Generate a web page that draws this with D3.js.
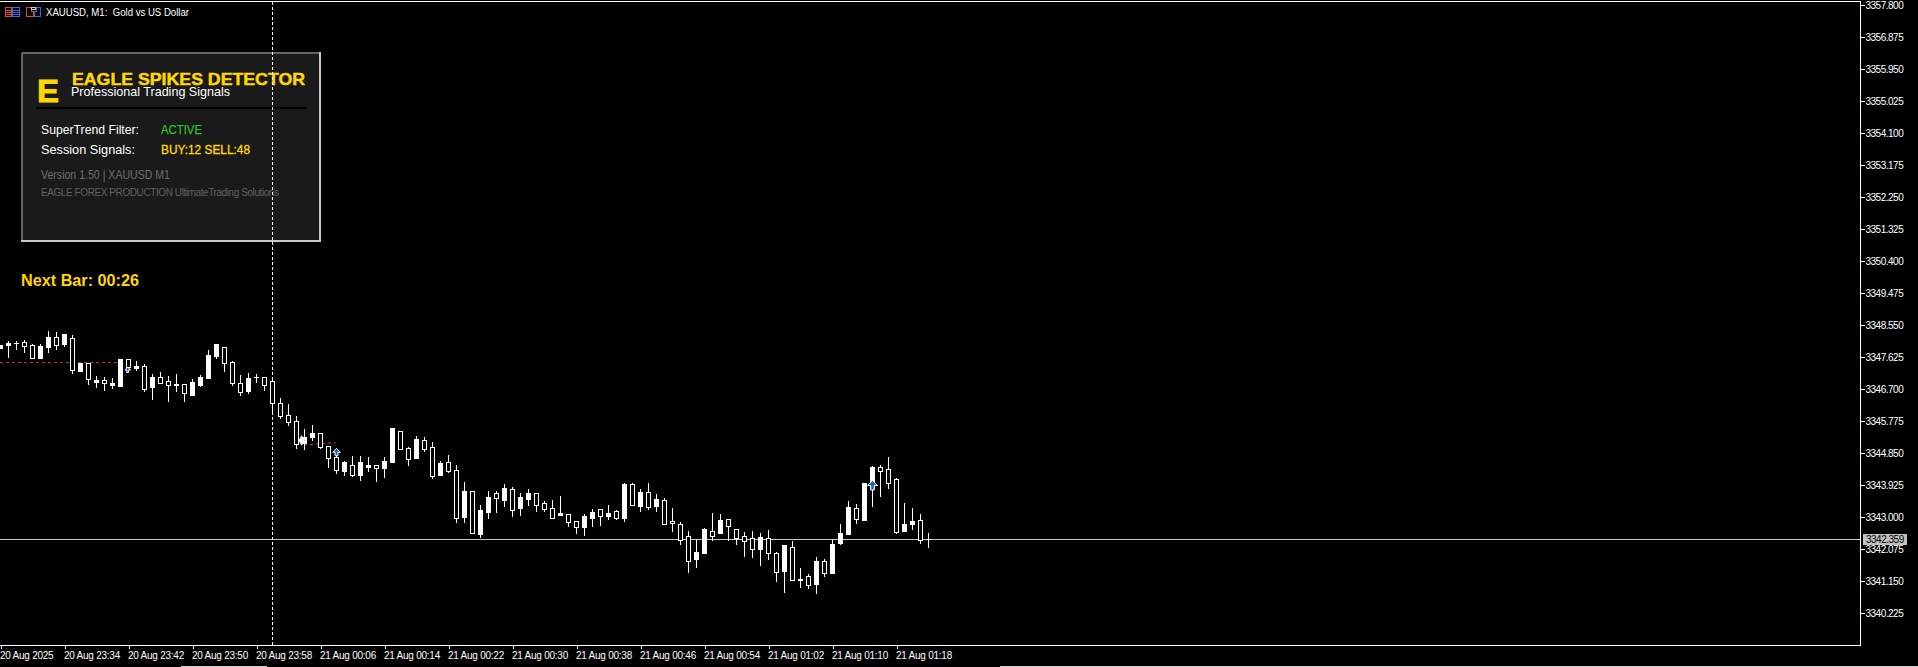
<!DOCTYPE html>
<html><head><meta charset="utf-8">
<style>html,body{margin:0;padding:0;background:#000;overflow:hidden}svg{display:block}text{font-family:"Liberation Sans",Arial,sans-serif}</style>
<script src="https://cdn.jsdelivr.net/npm/d3@7"></script></head><body><svg id="c" width="1918" height="667"></svg>
<script>
const opens=[3347.979,3348.037,3348.037,3347.95,3347.603,3347.95,3348.21,3347.979,3348.297,3347.257,3347.459,3346.996,3346.968,3346.881,3346.881,3347.575,3347.343,3347.372,3346.708,3347.054,3346.881,3346.823,3346.852,3346.592,3346.91,3347.054,3347.69,3348.008,3347.459,3346.881,3346.621,3347.025,3347.054,3346.823,3346.303,3345.927,3345.754,3345.118,3345.32,3345.436,3345.032,3344.714,3344.367,3344.598,3344.222,3344.598,3344.511,3344.425,3344.627,3345.581,3344.974,3344.685,3345.263,3344.974,3344.193,3344.569,3344.338,3342.98,3343.76,3342.546,3343.211,3343.587,3343.558,3343.847,3343.211,3343.587,3343.702,3343.355,3343.24,3342.98,3343.124,3342.864,3342.719,3343.038,3343.153,3343.038,3343.124,3342.98,3343.962,3343.355,3343.731,3343.298,3343.529,3342.806,3342.835,3342.344,3341.737,3341.997,3342.662,3342.46,3342.922,3342.748,3342.402,3342.315,3342.084,3342.431,3341.968,3341.419,3342.199,3341.188,3341.217,3341.043,3341.737,3341.39,3342.228,3342.546,3343.298,3342.951,3343.991,3344.454,3344.338,3343.991,3342.575,3342.806,3342.893,3342.344,3342.373];
const highs=[3347.979,3348.095,3348.095,3348.124,3348.008,3348.008,3348.384,3348.355,3348.297,3348.268,3347.459,3347.459,3347.083,3347.054,3347.025,3347.575,3347.575,3347.517,3347.43,3347.141,3347.199,3347.083,3347.141,3346.852,3346.996,3347.112,3347.835,3348.008,3347.921,3347.517,3347.112,3347.17,3347.141,3347.054,3346.968,3346.448,3346.274,3345.927,3345.552,3345.667,3345.436,3345.061,3344.945,3344.627,3344.772,3344.772,3344.743,3344.511,3344.743,3345.581,3345.494,3345.032,3345.349,3345.32,3345.176,3344.627,3344.801,3344.511,3344.02,3343.76,3343.355,3343.76,3343.76,3343.962,3343.876,3343.702,3343.818,3343.702,3343.471,3343.5,3343.616,3343.095,3342.893,3343.095,3343.24,3343.24,3343.355,3343.211,3343.991,3343.991,3343.818,3343.991,3343.673,3343.558,3343.269,3342.864,3342.604,3342.344,3342.691,3343.124,3343.095,3342.951,3342.662,3342.575,3342.604,3342.546,3342.633,3341.997,3342.199,3342.315,3341.535,3341.362,3341.853,3341.795,3342.344,3342.806,3343.471,3343.384,3343.991,3344.483,3344.511,3344.743,3344.136,3343.413,3343.269,3343.095,3342.546];
const lows=[3347.892,3347.632,3347.863,3347.777,3347.603,3347.603,3347.777,3347.863,3347.95,3347.17,3347.228,3346.852,3346.765,3346.679,3346.736,3346.794,3347.257,3347.257,3346.65,3346.419,3346.881,3346.361,3346.65,3346.361,3346.534,3346.794,3347.025,3347.603,3347.228,3346.823,3346.534,3346.592,3346.91,3346.679,3346.014,3345.87,3345.667,3345.003,3344.974,3345.234,3345.003,3344.454,3344.28,3344.222,3344.193,3344.078,3344.338,3344.049,3344.165,3344.598,3344.974,3344.511,3344.714,3344.916,3344.136,3344.222,3344.309,3342.864,3342.864,3342.546,3342.431,3342.98,3343.153,3343.326,3343.038,3343.067,3343.355,3343.182,3343.182,3342.98,3343.067,3342.748,3342.546,3342.488,3342.748,3342.777,3342.951,3342.951,3342.893,3343.355,3343.182,3343.24,3343.182,3342.806,3342.604,3342.228,3341.419,3341.564,3341.968,3342.344,3342.546,3342.344,3342.228,3341.882,3341.853,3341.622,3341.795,3341.159,3340.841,3341.188,3340.986,3340.957,3340.812,3341.304,3341.39,3342.228,3342.517,3342.835,3342.922,3343.326,3343.616,3343.847,3342.546,3342.604,3342.662,3342.257,3342.142];
const closes=[3347.892,3347.979,3348.037,3348.066,3347.979,3347.603,3347.921,3348.21,3348.008,3348.181,3347.228,3347.459,3346.91,3346.968,3346.823,3346.794,3347.575,3347.314,3347.372,3346.765,3347.054,3346.939,3346.823,3346.852,3346.534,3346.823,3347.025,3347.661,3347.921,3347.488,3346.881,3346.65,3347.054,3347.054,3346.939,3346.303,3345.956,3345.783,3345.147,3345.32,3345.436,3345.061,3344.743,3344.338,3344.511,3344.222,3344.454,3344.511,3344.425,3344.598,3345.494,3345.003,3344.714,3345.234,3345.032,3344.222,3344.598,3344.367,3343.009,3343.76,3342.517,3343.153,3343.702,3343.5,3343.818,3343.269,3343.529,3343.702,3343.413,3343.269,3343.067,3343.095,3342.893,3342.719,3342.98,3343.24,3343.038,3343.182,3342.98,3343.962,3343.326,3343.731,3343.326,3343.5,3342.893,3342.806,3342.46,3341.795,3341.968,3342.604,3342.546,3342.951,3342.662,3342.46,3342.402,3342.084,3342.402,3341.968,3341.448,3342.142,3341.188,3341.304,3341.072,3341.737,3341.39,3342.257,3342.517,3343.269,3342.922,3343.847,3344.454,3344.396,3344.107,3342.604,3342.806,3342.922,3342.359];
const priceTicks=[3357.8,3356.875,3355.95,3355.025,3354.1,3353.175,3352.25,3351.325,3350.4,3349.475,3348.55,3347.625,3346.7,3345.775,3344.85,3343.925,3343,3342.075,3341.15,3340.225];
const timeLabels=["20 Aug 2025","20 Aug 23:34","20 Aug 23:42","20 Aug 23:50","20 Aug 23:58","21 Aug 00:06","21 Aug 00:14","21 Aug 00:22","21 Aug 00:30","21 Aug 00:38","21 Aug 00:46","21 Aug 00:54","21 Aug 01:02","21 Aug 01:10","21 Aug 01:18"];
const timeTickBars=[0,8,16,24,32,40,48,56,64,72,80,88,96,104,112];
const bidPrice=3342.359, separatorBar=34;
const signalLines=[[0,14.7,3347.47,3347.47],[38,41.9,3345.09,3345.16]];
const buyArrows=[[42,3344.88,7],[109,3343.92,9],[15.9,3347.26,5]];
const sellMarks=[[37.7,3345.22]];

const svg=d3.select("#c");
const x=d3.scaleLinear().domain([0,8]).range([0,64]);
const y=d3.scaleLinear().domain([3340.225,3357.8]).range([613.3,5.3]);
const px=v=>Math.round(y(v));
const bars=d3.range(opens.length);
const W=1860,B=645,gold="#FFD700";

// bid line, separator and signal lines lie under the candles
const under=svg.append("g").attr("shape-rendering","crispEdges");
under.append("line").attr("x1",0).attr("x2",W).attr("y1",px(bidPrice)+.5).attr("y2",px(bidPrice)+.5).attr("stroke","#c8c8c8");
const sep=(a,b)=>{const s=svg.append("line").attr("shape-rendering","crispEdges").attr("x1",x(separatorBar)+.5).attr("x2",x(separatorBar)+.5).attr("y1",a).attr("y2",b).attr("stroke","#fff").attr("stroke-dasharray","3,2");return s;};
sep(2,B);
svg.append("g").selectAll("line").data(signalLines).join("line")
 .attr("x1",d=>x(d[0])).attr("x2",d=>x(d[1])).attr("y1",d=>y(d[2])).attr("y2",d=>y(d[3]))
 .attr("stroke","#e0432a").attr("stroke-dasharray","3,3").attr("stroke-width",1);
const cg=svg.append("g").attr("shape-rendering","crispEdges");
cg.selectAll(".w").data(bars).join("rect").attr("x",i=>x(i)).attr("width",1)
 .attr("y",i=>px(highs[i])).attr("height",i=>px(lows[i])-px(highs[i])+1).attr("fill","#fff");
cg.selectAll(".b").data(bars).join("rect")
 .attr("x",i=>x(i)-2+(closes[i]>opens[i]?0.5:0)).attr("width",i=>closes[i]>opens[i]?4:5)
 .attr("y",i=>px(Math.max(opens[i],closes[i]))+(closes[i]>opens[i]?0.5:0))
 .attr("height",i=>{const h=px(Math.min(opens[i],closes[i]))-px(Math.max(opens[i],closes[i]));return closes[i]>opens[i]?h:h+1;})
 .attr("fill",i=>closes[i]>opens[i]?"#000":"#fff")
 .attr("stroke",i=>closes[i]>opens[i]?"#fff":"none").attr("stroke-width",1);
// signal glyphs
const arrow=s=>`M0,${-s*0.55}L${s*0.55},0L${s*0.2},0L${s*0.2},${s*0.5}L${-s*0.2},${s*0.5}L${-s*0.2},0L${-s*0.55},0Z`;
svg.append("g").selectAll("path").data(buyArrows).join("path")
 .attr("transform",d=>`translate(${x(d[0])+0.5},${y(d[1])})`).attr("d",d=>arrow(d[2]))
 .attr("fill","#1469b4").attr("stroke","#fff").attr("stroke-width",1);
svg.append("g").selectAll("path").data(sellMarks).join("path")
 .attr("transform",d=>`translate(${x(d[0])},${y(d[1])})`).attr("d",d3.symbol(d3.symbolDiamond,34))
 .attr("fill","#fff").attr("stroke","#e0432a").attr("stroke-width",0.6).attr("stroke-dasharray","2,3");

// panel
const P=svg.append("g");
P.append("rect").attr("x",21).attr("y",52).attr("width",300).attr("height",190).attr("fill","#1a1a1a").attr("shape-rendering","crispEdges");
const edge=(a,b,c,d,col)=>P.append("line").attr("x1",a).attr("y1",b).attr("x2",c).attr("y2",d).attr("stroke",col).attr("stroke-width",2).attr("shape-rendering","crispEdges");
edge(22,53,320,53,"#646464");edge(22,53,22,241,"#646464");
edge(320,52,320,242,"#c8c8c8");edge(21,241,321,241,"#c8c8c8");
edge(36,108,306,108,"#000");
const t=(s,px_,py,size,col,o={})=>{const n=P.append("text").attr("x",px_).attr("y",py).attr("font-size",size).attr("fill",col).text(s);
 if(o.w)n.attr("textLength",o.w).attr("lengthAdjust",o.sp?"spacing":"spacingAndGlyphs");
 if(o.b)n.attr("font-weight","bold");
 if(o.s)n.attr("stroke",col).attr("stroke-width",o.s);return n;};
t("E",37,102,32,gold,{b:1,s:0.8,w:22});
t("EAGLE SPIKES DETECTOR",72,85,17,gold,{b:1,s:0.45,w:233});
t("Professional Trading Signals",71,96,13,"#fff",{w:159});
t("SuperTrend Filter:",41,134,12,"#fff",{w:98});
t("ACTIVE",161,134,12,"#2fbf2f",{w:41,s:0.25});
t("Session Signals:",41,154,12,"#fff",{w:94});
t("BUY:12 SELL:48",161,154,12,gold,{w:89,s:0.3});
t("Version 1.50 | XAUUSD M1",41,179,12,"#6e6e6e",{w:129});
t("EAGLE FOREX PRODUCTION UltimateTrading Solutions",41,196,10,"#606060",{w:238,sp:1});
t("Next Bar: 00:26",21,286,16,gold,{b:1,w:118});
sep(52,242).attr("stroke-dashoffset",-0);

// header
const I=svg.append("g").attr("shape-rendering","crispEdges").attr("fill","none").attr("stroke-width",1);
I.append("rect").attr("x",5.5).attr("y",7.5).attr("width",6).attr("height",9).attr("stroke","#e0463c");
I.append("rect").attr("x",12.5).attr("y",7.5).attr("width",7).attr("height",9).attr("stroke","#2f6fd8");
[10,12,14].forEach(v=>{I.append("line").attr("x1",6).attr("x2",11).attr("y1",v+.5).attr("y2",v+.5).attr("stroke","#e0463c");
 I.append("line").attr("x1",13).attr("x2",19).attr("y1",v+.5).attr("y2",v+.5).attr("stroke","#2f6fd8");});
I.append("path").attr("d","M26.5,7.5H31.5V11.5H33.5V16.5H26.5Z").attr("stroke","#e0463c");
I.append("path").attr("d","M34.5,16.5H40.5V7.5H36.5V11.5H34.5Z").attr("stroke","#2f6fd8");
I.append("rect").attr("x",31.5).attr("y",7.5).attr("width",4).attr("height",2).attr("stroke","#ccc");
svg.append("text").attr("x",46).attr("y",16).attr("font-size",10).attr("fill","#fff").attr("textLength",143).attr("lengthAdjust","spacingAndGlyphs").attr("xml:space","preserve").text("XAUUSD, M1:  Gold vs US Dollar");

// frame
const F=svg.append("g").attr("shape-rendering","crispEdges").attr("stroke","#fff");
F.append("line").attr("x1",0).attr("x2",W+1).attr("y1",1.5).attr("y2",1.5);
F.append("line").attr("x1",W+.5).attr("x2",W+.5).attr("y1",1).attr("y2",B+1);
F.append("line").attr("x1",0).attr("x2",W+1).attr("y1",B+.5).attr("y2",B+.5);

// axes
const yAxis=svg.append("g").attr("transform",`translate(${W+.5},0)`)
 .call(d3.axisRight(y).tickValues(priceTicks).tickFormat(d3.format(".3f")).tickSize(4).tickPadding(1));
yAxis.select(".domain").remove();
yAxis.selectAll("line").attr("stroke","#fff").attr("shape-rendering","crispEdges");
yAxis.selectAll("text").attr("fill","#fff").attr("font-size",10).attr("letter-spacing","-0.5px").attr("font-family","Liberation Sans");
const fmt=new Map(timeTickBars.map((b,i)=>[b,timeLabels[i]]));
const xAxis=svg.append("g").attr("transform",`translate(0.5,${B+.5})`)
 .call(d3.axisBottom(x).tickValues(timeTickBars).tickFormat(b=>fmt.get(b)).tickSize(3).tickPadding(3));
xAxis.select(".domain").remove();
xAxis.selectAll("line").attr("stroke","#fff").attr("shape-rendering","crispEdges");
xAxis.selectAll("text").attr("fill","#fff").attr("font-size",10).attr("text-anchor","start").attr("dx",-1).attr("letter-spacing","-0.25px").attr("font-family","Liberation Sans");

// bid box
svg.append("rect").attr("x",1863).attr("y",px(bidPrice)-5).attr("width",44).attr("height",11).attr("fill","#c0c0c0").attr("shape-rendering","crispEdges");
svg.append("text").attr("x",1866).attr("y",px(bidPrice)+4).attr("font-size",10).attr("letter-spacing","-0.5px").attr("fill","#000").text(d3.format(".3f")(bidPrice));

// tab strip
svg.append("rect").attr("x",181).attr("y",666).attr("width",86).attr("height",1).attr("fill","#d0d0d0");
svg.append("rect").attr("x",1000).attr("y",666).attr("width",918).attr("height",1).attr("fill","#d0d0d0");
</script></body></html>
